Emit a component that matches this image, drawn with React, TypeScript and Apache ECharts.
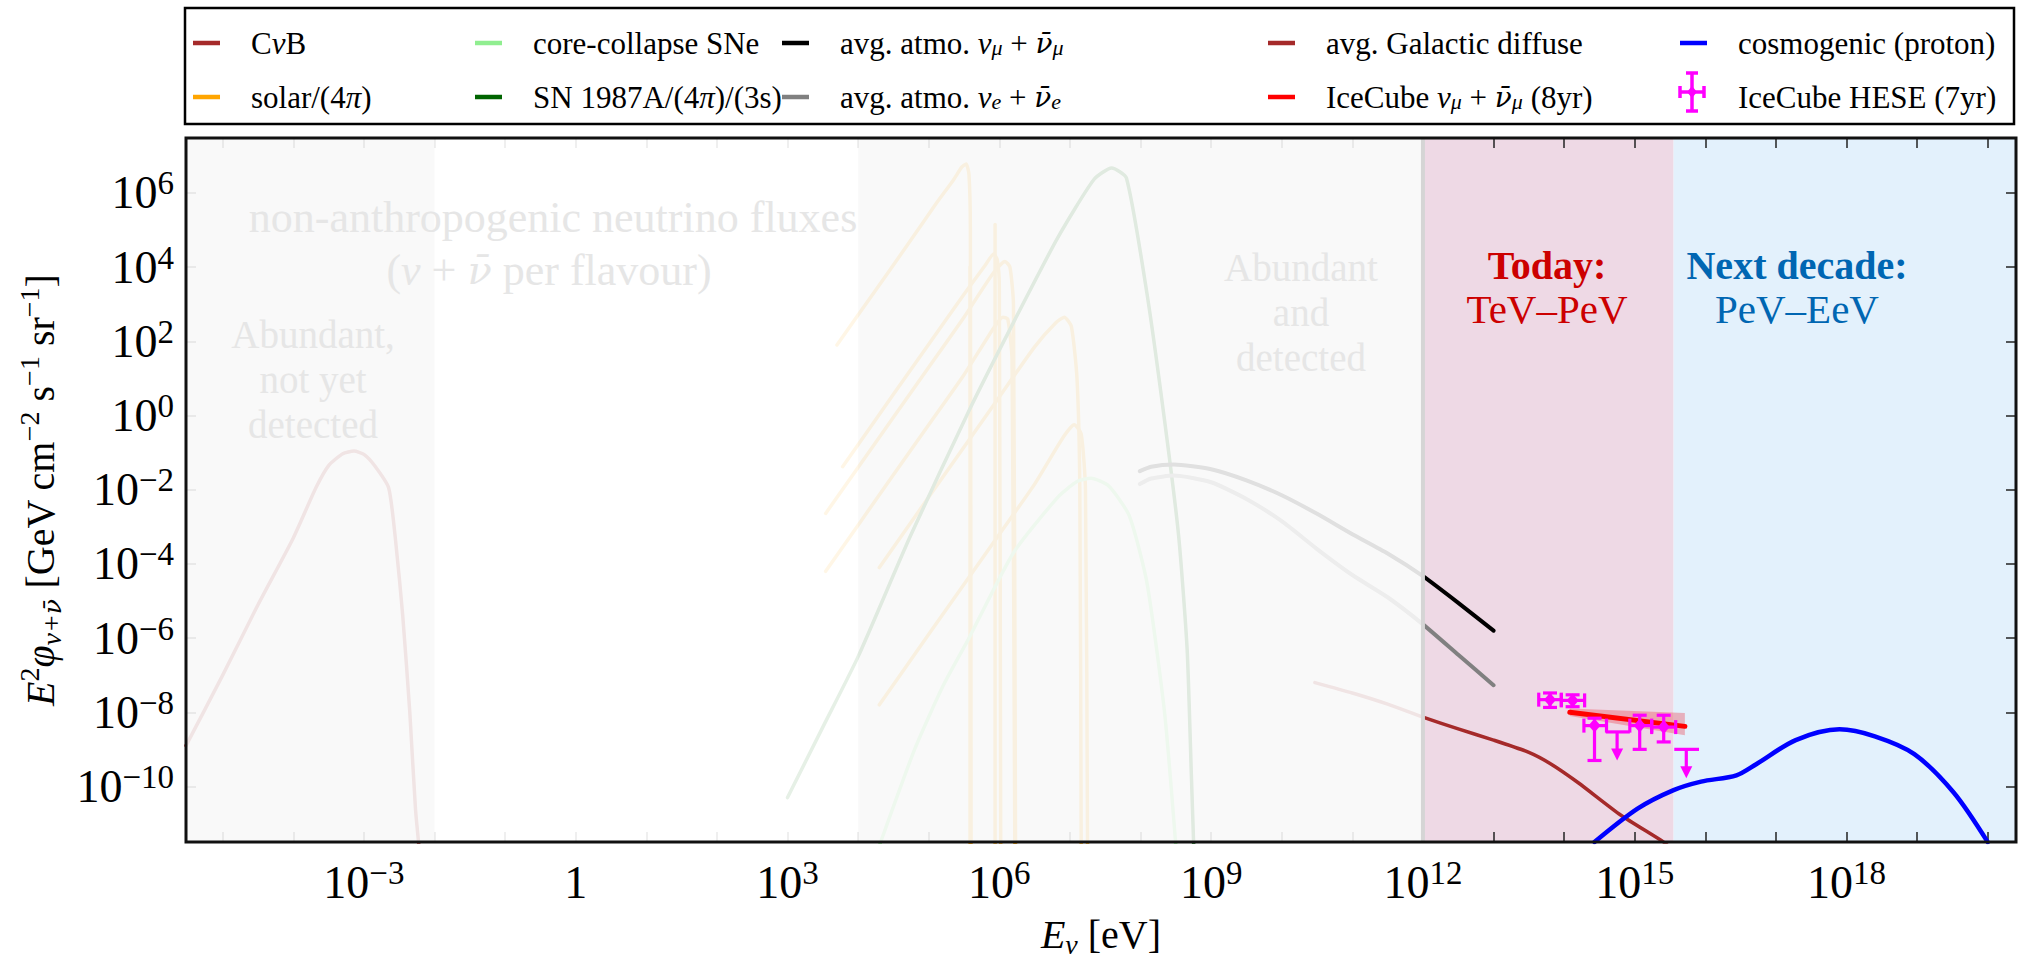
import React, { useEffect, useRef } from 'react';
import * as echarts from 'echarts';

const SERIF = '"Liberation Serif", "DejaVu Serif", serif';
const BARFONT = '"DejaVu Serif", "Liberation Serif", serif';

// Axes are log10(E / eV) and log10(E^2 phi / GeV cm^-2 s^-1 sr^-1)
const X_MIN = -5.52;
const X_MAX = 20.4;
const Y_MIN = -11.5;
const Y_MAX = 7.48;

const xTickExponents = [-5, -4, -3, -2, -1, 0, 1, 2, 3, 4, 5, 6, 7, 8, 9, 10, 11, 12, 13, 14, 15, 16, 17, 18, 19, 20];
const xLabelExponents = [-3, 0, 3, 6, 9, 12, 15, 18];
const yTickExponents = [-10, -8, -6, -4, -2, 0, 2, 4, 6];

// region boundaries (log10 E)
const abundantUndetected = [X_MIN, -2];
const abundantDetected = [4, 12];
const pastRange = [X_MIN, 12];
const todayRange = [12, 15.55];
const nextRange = [15.55, X_MAX];

// curves: [log10 E, log10 E^2 phi]
const cnb = [[-5.52, -8.9], [-5.0, -7.0], [-4.5, -5.1], [-4.0, -3.3], [-3.68, -1.95], [-3.5, -1.35], [-3.3, -1.03], [-3.14, -0.96], [-3.0, -1.05], [-2.85, -1.35], [-2.65, -1.95], [-2.55, -3.4], [-2.45, -5.4], [-2.35, -8.0], [-2.27, -10.6], [-2.2, -12]];
const solarPP = [[3.7, 1.9], [4.2, 3.25], [4.7, 4.6], [5.1, 5.7], [5.35, 6.35], [5.47, 6.7], [5.53, 6.78], [5.57, 6.5], [5.59, 5.0], [5.6, -12]];
const solarBe7Low = [[5.585, 4.0], [5.585, -12]];
const solarBe7High = [[5.94, 5.15], [5.94, -12]];
const solarN13 = [[3.78, -1.38], [4.5, 0.57], [5.0, 1.92], [5.5, 3.27], [5.8, 4.05], [5.92, 4.35], [5.97, 4.2], [6.0, 3.5], [6.02, -12]];
const solarO15 = [[3.54, -2.64], [4.5, -0.05], [5.0, 1.3], [5.5, 2.65], [5.9, 3.8], [6.08, 4.15], [6.15, 4.0], [6.2, 3.0], [6.23, -12]];
const solarF17 = [[3.54, -4.2], [4.5, -1.6], [5.0, -0.25], [5.5, 1.1], [5.9, 2.3], [6.05, 2.65], [6.12, 2.6], [6.18, 1.5], [6.22, -12]];
const solarB8 = [[4.3, -4.1], [5.0, -2.2], [5.5, -0.85], [6.0, 0.5], [6.5, 1.85], [6.8, 2.5], [6.92, 2.65], [7.02, 2.4], [7.1, 1.0], [7.14, -2], [7.16, -12]];
const solarHep = [[4.3, -7.8], [5.0, -5.9], [5.5, -4.55], [6.0, -3.2], [6.5, -1.85], [6.9, -0.6], [7.06, -0.25], [7.16, -0.5], [7.22, -2], [7.25, -12]];
const coreCollapseSNe = [[4.3, -11.6], [4.8, -9.0], [5.2, -7.3], [5.57, -6.0], [6.2, -3.7], [6.83, -2.2], [7.1, -1.78], [7.3, -1.69], [7.55, -1.9], [7.84, -2.7], [8.09, -4.5], [8.34, -8.0], [8.5, -11.6]];
const sn1987A = [[3.0, -10.3], [3.5, -8.4], [4.0, -6.5], [4.74, -3.25], [5.57, 0.13], [6.19, 2.47], [6.83, 4.8], [7.34, 6.36], [7.59, 6.67], [7.8, 6.4], [8.09, 3.3], [8.34, -0.13], [8.54, -3.25], [8.66, -6.3], [8.72, -9.7], [8.76, -12]];
const atmoNuMu = [[7.99, -1.5], [8.15, -1.38], [8.47, -1.32], [9.0, -1.45], [9.5, -1.75], [10.0, -2.15], [10.5, -2.65], [11.0, -3.2], [11.5, -3.72], [12.0, -4.33], [12.5, -5.05], [13.0, -5.8]];
const atmoNuE = [[7.99, -1.85], [8.15, -1.7], [8.47, -1.62], [9.0, -1.8], [9.5, -2.25], [10.0, -2.85], [10.5, -3.6], [11.0, -4.3], [11.5, -4.9], [12.0, -5.63], [12.5, -6.45], [13.0, -7.27]];
const galacticDiffuse = [[10.47, -7.2], [11.0, -7.48], [11.5, -7.78], [12.0, -8.13], [12.5, -8.45], [13.0, -8.75], [13.5, -9.08], [13.8, -9.38], [14.2, -9.9], [14.8, -10.77], [15.41, -11.5], [15.5, -11.65]];
const icecubeTrack = [[14.08, -8.0], [15.71, -8.38]];
const icecubeBand = [[14.08, -8.1, -7.9], [15.71, -8.62, -8.02]];
const cosmogenic = [[14.43, -11.5], [15.04, -10.6], [15.55, -10.1], [15.94, -9.87], [16.44, -9.7], [16.72, -9.4], [17.28, -8.75], [17.9, -8.46], [18.4, -8.65], [18.96, -9.13], [19.52, -10.17], [20.0, -11.5]];
// HESE: [x, y, xlo, xhi, ylo, yhi, upperLimit]
const hese = [
  [13.8, -7.66, 13.64, 13.96, -7.87, -7.48, 0],
  [14.12, -7.68, 13.96, 14.29, -7.85, -7.53, 0],
  [14.43, -8.36, 14.28, 14.6, -9.3, -8.16, 0],
  [14.75, -8.53, 14.59, 14.93, -9.3, -8.53, 1],
  [15.07, -8.36, 14.93, 15.24, -9.0, -8.08, 0],
  [15.41, -8.4, 15.24, 15.58, -8.8, -8.08, 0],
  [15.73, -9.0, 15.56, 15.91, -9.78, -9.0, 1],
];

const BROWN = '#a52a2a';
const ORANGE = '#ffa500';
const LIGHTGREEN = '#90ee90';
const DARKGREEN = '#006400';
const GRAY = '#808080';
const RED = '#ff0000';
const BLUE = '#0000ff';
const MAGENTA = '#ff00ff';

const powLabel = (e: number) => `{n|10}{s|${e < 0 ? '\u2212' : ''}${Math.abs(e)}}`;
const xExpLabel = (v: number) => {
  const e = Math.round(v);
  return e === 0 ? '{n|1}' : powLabel(e);
};
const yExpLabel = (v: number) => powLabel(Math.round(v));

const tickRich = {
  n: { fontSize: 46, fontFamily: SERIF, color: '#000', lineHeight: 52 },
  s: { fontSize: 33, fontFamily: SERIF, color: '#000', lineHeight: 30, verticalAlign: 'top' },
};

function curve(name: string, data: number[][], color: string, width: number, z = 2, smooth: number | boolean = 0.2) {
  return {
    type: 'line', name, data, showSymbol: false, symbol: 'none', smooth,
    lineStyle: { color, width, cap: 'round', join: 'round' }, itemStyle: { color },
    z, silent: true, clip: true,
  };
}

function bandSeries(name: string, rows: number[][], fills: string[], z: number) {
  return {
    type: 'custom', name, z, silent: true, data: rows,
    renderItem: (params: any, api: any) => {
      const x0 = api.value(0) as number;
      const x1 = api.value(1) as number;
      const p0 = api.coord([x0, Y_MIN]);
      const p1 = api.coord([x1, Y_MAX]);
      let w = p1[0] - p0[0];
      let x = p0[0];
      if (w < 1) { x = p0[0] - 2; w = 4; }
      return { type: 'rect', shape: { x, y: p1[1], width: w, height: p0[1] - p1[1] }, style: { fill: fills[params.dataIndex] } };
    },
  };
}

const NU = '\u03BD';
const NUBAR = '\u03BD\u0304';

const LFS = 31;
const legendRich = {
  i: { fontStyle: 'italic', fontSize: LFS, fontFamily: SERIF, fill: '#000' },
  ib: { fontStyle: 'italic', fontSize: LFS - 3, fontFamily: BARFONT, fill: '#000' },
  sub: { fontStyle: 'italic', fontSize: 22, fontFamily: SERIF, fill: '#000', verticalAlign: 'bottom', lineHeight: 18 },
};

const legendItems = [
  { text: 'C{i|' + NU + '}B', color: BROWN, col: 0, row: 0 },
  { text: 'solar/(4{i|\u03C0})', color: ORANGE, col: 0, row: 1 },
  { text: 'core-collapse SNe', color: LIGHTGREEN, col: 1, row: 0 },
  { text: 'SN 1987A/(4{i|\u03C0})/(3s)', color: DARKGREEN, col: 1, row: 1 },
  { text: 'avg. atmo. {i|' + NU + '}{sub|\u03BC} + {ib|' + NUBAR + '}{sub|\u03BC}', color: '#000', col: 2, row: 0 },
  { text: 'avg. atmo. {i|' + NU + '}{sub|e} + {ib|' + NUBAR + '}{sub|e}', color: GRAY, col: 2, row: 1 },
  { text: 'avg. Galactic diffuse', color: BROWN, col: 3, row: 0 },
  { text: 'IceCube {i|' + NU + '}{sub|\u03BC} + {ib|' + NUBAR + '}{sub|\u03BC} (8yr)', color: RED, col: 3, row: 1 },
  { text: 'cosmogenic (proton)', color: BLUE, col: 4, row: 0 },
  { text: 'IceCube HESE (7yr)', color: MAGENTA, col: 4, row: 1, hese: true },
];
const legendColX = [193, 475, 782, 1268, 1680];
const legendRowY = [43, 97];

function buildGraphic() {
  const els: any[] = [];
  els.push({ type: 'rect', z: 100, shape: { x: 185, y: 8, width: 1829, height: 116 }, style: { fill: '#fff', stroke: '#000', lineWidth: 2.5 } });
  legendItems.forEach((it) => {
    const x0 = legendColX[it.col];
    const y = legendRowY[it.row];
    if (it.hese) {
      const cx = x0 + 12;
      const cy = y - 5;
      const st = { stroke: MAGENTA, lineWidth: 3.5 };
      els.push({ type: 'line', z: 101, shape: { x1: cx - 12, y1: cy, x2: cx + 12, y2: cy }, style: st });
      els.push({ type: 'line', z: 101, shape: { x1: cx - 12, y1: cy - 6, x2: cx - 12, y2: cy + 6 }, style: st });
      els.push({ type: 'line', z: 101, shape: { x1: cx + 12, y1: cy - 6, x2: cx + 12, y2: cy + 6 }, style: st });
      els.push({ type: 'line', z: 101, shape: { x1: cx, y1: cy - 19, x2: cx, y2: cy + 19 }, style: st });
      els.push({ type: 'line', z: 101, shape: { x1: cx - 6, y1: cy - 19, x2: cx + 6, y2: cy - 19 }, style: st });
      els.push({ type: 'line', z: 101, shape: { x1: cx - 6, y1: cy + 19, x2: cx + 6, y2: cy + 19 }, style: st });
      els.push({ type: 'polygon', z: 101, shape: { points: [[cx, cy - 6], [cx + 5, cy], [cx, cy + 6], [cx - 5, cy]] }, style: { fill: MAGENTA } });
    } else {
      els.push({ type: 'line', z: 101, shape: { x1: x0, y1: y, x2: x0 + 27, y2: y }, style: { stroke: it.color, lineWidth: 4.5 } });
    }
    els.push({
      type: 'text', z: 101, x: x0 + 58, y,
      style: { text: it.text, font: `${LFS}px ${SERIF}`, fontSize: LFS, fontFamily: SERIF, fill: '#000', align: 'left', textAlign: 'left', verticalAlign: 'middle', textVerticalAlign: 'middle', rich: legendRich },
    });
  });

  const gtext = (text: string, x: number, y: number, size: number, color: string, weight = 'normal', lineHeight?: number, rich?: any) => ({
    type: 'text', z: 100, x, y,
    style: { text, font: `${weight} ${size}px ${SERIF}`, fontSize: size, fontFamily: SERIF, fontWeight: weight, fill: color, align: 'center', textAlign: 'center', verticalAlign: 'middle', textVerticalAlign: 'middle', lineHeight, rich },
  });
  const FADE = '#e6e6e6';
  const GFS = 44;
  const BFS = 39;
  const fadeRich = {
    i: { fontStyle: 'italic', fontSize: GFS, fontFamily: SERIF, fill: FADE },
    ib: { fontStyle: 'italic', fontSize: GFS - 4, fontFamily: BARFONT, fill: FADE },
  };
  els.push(gtext('non-anthropogenic neutrino fluxes', 553, 217, GFS, FADE));
  els.push(gtext('({i|' + NU + '} + {ib|' + NUBAR + '} per flavour)', 549, 270, GFS, FADE, 'normal', undefined, fadeRich));
  els.push(gtext('Abundant,\nnot yet\ndetected', 313, 379, BFS, FADE, 'normal', 45));
  els.push(gtext('Abundant\nand\ndetected', 1301, 312, BFS, FADE, 'normal', 45));
  els.push(gtext('Today:', 1547, 265, 40, '#cc0000', 'bold'));
  els.push(gtext('TeV\u2013PeV', 1547, 309, 41, '#cc0000'));
  els.push(gtext('Next decade:', 1797, 265, 40, '#0066b2', 'bold'));
  els.push(gtext('PeV\u2013EeV', 1797, 309, 41, '#0066b2'));
  return els;
}

function buildOption() {
  const axisCommon = {
    type: 'value', z: 1,
    axisLine: { show: false, onZero: false },
    splitLine: { show: false },
  };
  const heseSeries = {
    type: 'custom', name: 'IceCube HESE (7yr)', z: 6, silent: true, data: hese,
    renderItem: (params: any, api: any) => {
      const v = (i: number) => api.value(i) as number;
      const c = api.coord([v(0), v(1)]);
      const xl = api.coord([v(2), v(1)])[0];
      const xh = api.coord([v(3), v(1)])[0];
      const yl = api.coord([v(0), v(4)])[1];
      const yh = api.coord([v(0), v(5)])[1];
      const st = { stroke: MAGENTA, lineWidth: 3.2 };
      const ch: any[] = [{ type: 'line', shape: { x1: xl, y1: c[1], x2: xh, y2: c[1] }, style: st }];
      if (v(6) === 0) {
        ch.push({ type: 'line', shape: { x1: xl, y1: c[1] - 7, x2: xl, y2: c[1] + 7 }, style: st });
        ch.push({ type: 'line', shape: { x1: xh, y1: c[1] - 7, x2: xh, y2: c[1] + 7 }, style: st });
        ch.push({ type: 'line', shape: { x1: c[0], y1: yh, x2: c[0], y2: yl }, style: st });
        ch.push({ type: 'line', shape: { x1: c[0] - 7, y1: yh, x2: c[0] + 7, y2: yh }, style: st });
        ch.push({ type: 'line', shape: { x1: c[0] - 7, y1: yl, x2: c[0] + 7, y2: yl }, style: st });
        ch.push({ type: 'polygon', shape: { points: [[c[0], c[1] - 7], [c[0] + 6, c[1]], [c[0], c[1] + 7], [c[0] - 6, c[1]]] }, style: { fill: MAGENTA } });
      } else {
        ch.push({ type: 'line', shape: { x1: c[0], y1: c[1], x2: c[0], y2: yl - 10 }, style: st });
        ch.push({ type: 'polygon', shape: { points: [[c[0] - 6, yl - 12], [c[0] + 6, yl - 12], [c[0], yl]] }, style: { fill: MAGENTA } });
      }
      return { type: 'group', children: ch };
    },
  };
  const bandPoly = {
    type: 'custom', name: 'IceCube band', z: 4, silent: true, data: icecubeBand,
    renderItem: (params: any, api: any) => {
      if (params.dataIndex !== 0) return { type: 'group', children: [] };
      const upper = icecubeBand.map((r) => api.coord([r[0], r[2]]));
      const lower = icecubeBand.map((r) => api.coord([r[0], r[1]])).reverse();
      return { type: 'polygon', shape: { points: upper.concat(lower) }, style: { fill: 'rgba(235,80,95,0.4)' } };
    },
  };
  const tickStyle = { color: '#222', width: 1.5 };

  return {
    animation: false,
    backgroundColor: '#fff',
    grid: { left: 186, top: 138, right: 4, bottom: 95, show: true, borderColor: '#111', borderWidth: 3, backgroundColor: 'transparent', z: 10 },
    xAxis: [
      {
        ...axisCommon, min: X_MIN, max: X_MAX, position: 'bottom',
        axisTick: { inside: true, length: 10, lineStyle: tickStyle, customValues: xTickExponents },
        axisLabel: { customValues: xLabelExponents, formatter: xExpLabel, margin: 14, rich: tickRich },
        name: '{i|E}{sub|' + NU + '} [eV]', nameLocation: 'middle', nameGap: 62,
        nameTextStyle: {
          fontSize: 40, fontFamily: SERIF, color: '#000', lineHeight: 48,
          rich: {
            i: { fontStyle: 'italic', fontSize: 40, fontFamily: SERIF, color: '#000', lineHeight: 48 },
            sub: { fontStyle: 'italic', fontSize: 28, fontFamily: SERIF, color: '#000', lineHeight: 24, verticalAlign: 'bottom' },
          },
        },
      },
      {
        ...axisCommon, min: X_MIN, max: X_MAX, position: 'top',
        axisTick: { inside: true, length: 10, lineStyle: tickStyle, customValues: xTickExponents },
        axisLabel: { show: false },
      },
    ],
    yAxis: [
      {
        ...axisCommon, min: Y_MIN, max: Y_MAX, position: 'left',
        axisTick: { inside: true, length: 10, lineStyle: tickStyle, customValues: yTickExponents },
        axisLabel: { customValues: yTickExponents, formatter: yExpLabel, margin: 12, rich: tickRich },
        name: '{i|E}{sup|2}{i|\u03C6}{sub|' + NU + '+}{subb|' + NUBAR + '} [GeV cm{sup|\u22122} s{sup|\u22121} sr{sup|\u22121}]',
        nameLocation: 'middle', nameRotate: 90, nameGap: 114,
        nameTextStyle: {
          fontSize: 40, fontFamily: SERIF, color: '#000', lineHeight: 50,
          rich: {
            i: { fontStyle: 'italic', fontSize: 40, fontFamily: SERIF, color: '#000', lineHeight: 50 },
            sup: { fontSize: 28, fontFamily: SERIF, color: '#000', lineHeight: 24, verticalAlign: 'top' },
            sub: { fontStyle: 'italic', fontSize: 28, fontFamily: SERIF, color: '#000', lineHeight: 24, verticalAlign: 'bottom' },
            subb: { fontStyle: 'italic', fontSize: 25, fontFamily: BARFONT, color: '#000', lineHeight: 24, verticalAlign: 'bottom' },
          },
        },
      },
      {
        ...axisCommon, min: Y_MIN, max: Y_MAX, position: 'right',
        axisTick: { inside: true, length: 10, lineStyle: tickStyle, customValues: yTickExponents },
        axisLabel: { show: false },
      },
    ],
    series: [
      bandSeries('future bands', [todayRange, nextRange], ['#eed9e5', '#e3f1fc'], 0),
      curve('CνB', cnb, BROWN, 3.5),
      curve('solar pp', solarPP, ORANGE, 3.5),
      curve('solar 7Be 384', solarBe7Low, ORANGE, 3.5, 2, false),
      curve('solar 7Be 862', solarBe7High, ORANGE, 3.5, 2, false),
      curve('solar 13N', solarN13, ORANGE, 3.5),
      curve('solar 15O', solarO15, ORANGE, 3.5),
      curve('solar 17F', solarF17, ORANGE, 3.5),
      curve('solar 8B', solarB8, ORANGE, 3.5),
      curve('solar hep', solarHep, ORANGE, 3.5),
      curve('core-collapse SNe', coreCollapseSNe, LIGHTGREEN, 3.5),
      curve('SN 1987A', sn1987A, DARKGREEN, 3.5),
      curve('atmo nu_mu', atmoNuMu, '#000', 4),
      curve('atmo nu_e', atmoNuE, GRAY, 4),
      curve('Galactic diffuse', galacticDiffuse, BROWN, 3.5),
      curve('cosmogenic', cosmogenic, BLUE, 4.5, 2, 0.3),
      bandSeries('past fade', [pastRange, abundantUndetected, abundantDetected, [12, 12]],
        ['rgba(255,255,255,0.9)', 'rgba(0,0,0,0.025)', 'rgba(0,0,0,0.025)', '#d5d5d5'], 3),
      bandPoly,
      curve('IceCube track', icecubeTrack, RED, 5, 5, false),
      heseSeries,
    ],
    graphic: buildGraphic(),
  };
}

export default function App() {
  const ref = useRef<HTMLDivElement>(null);
  useEffect(() => {
    if (!ref.current) return;
    const chart = echarts.init(ref.current, undefined, { renderer: 'svg' });
    chart.setOption(buildOption() as any);
    return () => chart.dispose();
  }, []);
  return <div ref={ref} style={{ position: 'fixed', left: 0, top: 0, width: 2020, height: 963, background: '#fff' }} />;
}
